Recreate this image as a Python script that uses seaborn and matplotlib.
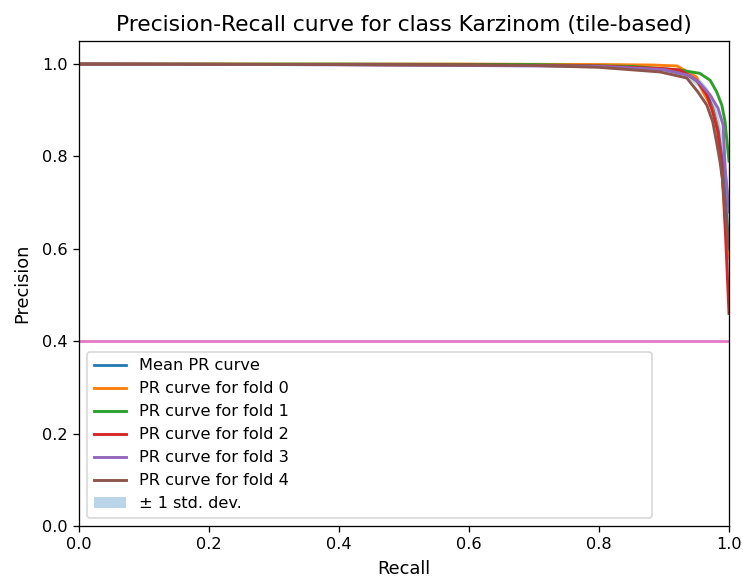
import matplotlib
matplotlib.use("Agg")
import matplotlib.pyplot as plt
import seaborn as sns
import numpy as np

# ---- data ----
mean_recall = [0.0, 0.4, 0.7, 0.8, 0.9, 0.935, 0.952, 0.966, 0.975, 0.983, 0.99, 0.995, 1.0]
mean_precision = [1.0, 0.999, 0.998, 0.996, 0.988, 0.978, 0.962, 0.935, 0.905, 0.86, 0.79, 0.7, 0.6]
mean_std = [0.0, 0.001, 0.002, 0.003, 0.004, 0.007, 0.01, 0.015, 0.022, 0.03, 0.05, 0.07, 0.11]

fold0_recall = [0.0, 0.3, 0.6, 0.8, 0.88, 0.92, 0.95, 0.96, 0.974, 0.981, 0.985, 0.99, 0.997, 1.0]
fold0_precision = [1.0, 1.0, 1.0, 0.999, 0.998, 0.996, 0.972, 0.94, 0.905, 0.868, 0.825, 0.75, 0.60, 0.58]

fold1_recall = [0.0, 0.4, 0.7, 0.85, 0.925, 0.955, 0.971, 0.981, 0.989, 0.994, 0.997, 1.0]
fold1_precision = [1.0, 1.0, 0.999, 0.995, 0.987, 0.98, 0.965, 0.94, 0.911, 0.875, 0.83, 0.79]

fold2_recall = [0.0, 0.4, 0.6, 0.8, 0.9, 0.925, 0.95, 0.966, 0.975, 0.983, 0.989, 0.992, 0.995, 1.0]
fold2_precision = [1.0, 0.999, 0.998, 0.996, 0.99, 0.987, 0.965, 0.933, 0.896, 0.853, 0.777, 0.706, 0.62, 0.46]

fold3_recall = [0.0, 0.3, 0.6, 0.8, 0.9, 0.94, 0.955, 0.971, 0.983, 0.991, 0.994, 1.0]
fold3_precision = [1.0, 0.999, 0.997, 0.995, 0.988, 0.975, 0.959, 0.933, 0.905, 0.868, 0.777, 0.68]

fold4_recall = [0.0, 0.4, 0.7, 0.8, 0.894, 0.935, 0.952, 0.966, 0.975, 0.981, 0.986, 0.99, 1.0]
fold4_precision = [1.0, 0.999, 0.997, 0.993, 0.983, 0.97, 0.94, 0.911, 0.875, 0.83, 0.79, 0.75, 0.6]

chance_recall = [0.0, 1.0]
chance_precision = [0.4, 0.4]

fold_labels = ["PR curve for fold 0", "PR curve for fold 1", "PR curve for fold 2",
               "PR curve for fold 3", "PR curve for fold 4"]
# ---------------------------------------

folds = [(fold0_recall, fold0_precision), (fold1_recall, fold1_precision),
         (fold2_recall, fold2_precision), (fold3_recall, fold3_precision),
         (fold4_recall, fold4_precision)]
colors = plt.rcParams["axes.prop_cycle"].by_key()["color"]

fig = plt.figure(figsize=(743 / 116, 578 / 116), dpi=116)
ax = fig.add_axes([79 / 743, 1 - 526 / 578, 650 / 743, 485 / 578])

sns.lineplot(x=mean_recall, y=mean_precision, color=colors[0], lw=1.7,
             label="Mean PR curve", sort=False, estimator=None, ax=ax)
for i, (r, p) in enumerate(folds):
    sns.lineplot(x=r, y=p, color=colors[i + 1], lw=1.8, label=fold_labels[i],
                 sort=False, estimator=None, ax=ax)

mp = np.array(mean_precision)
ms = np.array(mean_std)
ax.fill_between(mean_recall, np.clip(mp - ms, 0, 1), np.clip(mp + ms, 0, 1),
                color=colors[0], alpha=0.3, lw=0, label="± 1 std. dev.")

sns.lineplot(x=chance_recall, y=chance_precision, color=colors[6], lw=1.7,
             sort=False, estimator=None, ax=ax, legend=False)

ax.set_xlim(0, 1)
ax.set_ylim(0, 1.05)
ax.set_xlabel("Recall", fontsize=11, labelpad=5)
ax.set_ylabel("Precision", fontsize=11, labelpad=7)
ax.set_title("Precision-Recall curve for class Karzinom (tile-based)", fontsize=13.5)

handles, labels = ax.get_legend_handles_labels()
ax.legend(handles, labels, loc="lower left", mode="expand",
          bbox_to_anchor=(0, 0, 0.894, 1))

fig.savefig("out.png", dpi=116)
